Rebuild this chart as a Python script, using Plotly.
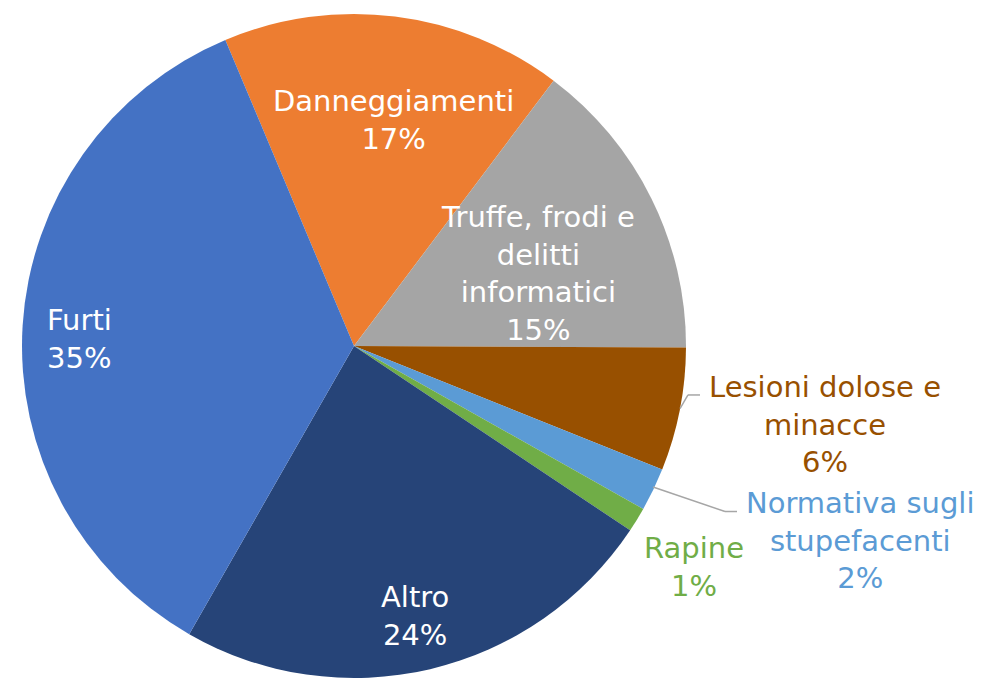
import plotly.graph_objects as go

# ---- data ----
categories = ["Danneggiamenti", "Truffe, frodi e<br>delitti<br>informatici",
              "Lesioni dolose e<br>minacce", "Normativa sugli<br>stupefacenti",
              "Rapine", "Altro", "Furti"]
values = [16.6, 14.8, 6.0, 2.1, 1.2, 23.9, 35.4]
colors = ["#ED7D31", "#A5A5A5", "#985000", "#5B9BD5", "#70AD47", "#264478", "#4472C4"]

# ---- label placement (pixels in the 981x678 reference) ----
W, H = 981, 678
OFF = 8  # page body margin compensation
label_px = [(393, 116), (538, 273), (825, 427), (860, 546), (694, 573), (415, 623), (45, 340)]
label_anchor = ["center", "center", "center", "center", "center", "center", "left"]
label_color = ["white", "white", "#985000", "#5B9BD5", "#70AD47", "white", "white"]


def px2paper(px, py):
    return (px - OFF) / W, 1 - (py - OFF) / H


total = sum(values)
fig = go.Figure(go.Pie(
    labels=[c.replace("<br>", " ") for c in categories],
    values=values,
    sort=False,
    direction="clockwise",
    rotation=-22.8,
    marker=dict(colors=colors, line=dict(width=0)),
    textinfo="none",
    hoverinfo="label+percent",
    showlegend=False,
    domain=dict(x=[(22 - OFF) / W, (686 - OFF) / W], y=[0, 1]),
))

annotations = []
for cat, v, (px, py), anc, col in zip(categories, values, label_px, label_anchor, label_color):
    pct = round(v / total * 100)
    x, y = px2paper(px, py)
    annotations.append(dict(
        x=x, y=y, xref="paper", yref="paper",
        text=f"{cat}<br>{pct}%", showarrow=False,
        xanchor=anc, yanchor="middle", align=anc,
        font=dict(family="DejaVu Sans", size=29, color=col),
    ))

# leader lines
leaders = [[(680, 411), (688, 397), (700, 397)],
           [(653, 491), (725, 516), (737, 516)]]
shapes = []
for pts in leaders:
    for (x0, y0), (x1, y1) in zip(pts[:-1], pts[1:]):
        ax0, ay0 = px2paper(x0, y0)
        ax1, ay1 = px2paper(x1, y1)
        shapes.append(dict(type="line", xref="paper", yref="paper",
                           x0=ax0, y0=ay0, x1=ax1, y1=ay1,
                           line=dict(color="#A6A6A6", width=1.5)))

fig.update_layout(
    width=W, height=H,
    margin=dict(l=0, r=0, t=14 - OFF, b=OFF),
    paper_bgcolor="white", plot_bgcolor="white",
    annotations=annotations, shapes=shapes,
)
fig.write_html("out.html")
